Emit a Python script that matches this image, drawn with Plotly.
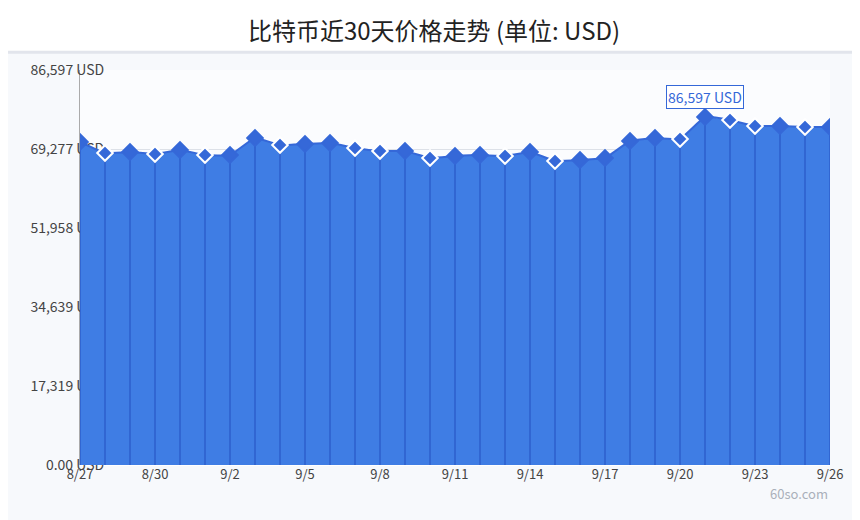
import plotly.graph_objects as go
import pandas as pd

dates = pd.date_range("2024-08-27", "2024-09-26").strftime("%Y-%m-%d").tolist()
prices = [70812, 68400, 68620, 68180, 69060, 67960, 67960, 71690, 70150, 70370,
          70590, 69500, 68840, 68840, 67300, 67740, 67960, 67740, 68620, 66650,
          66870, 67300, 71030, 71690, 71470, 76290, 75630, 74320, 74320, 74100, 74100]
dates = dates[:len(prices)]
tick_vals = [0, 17319, 34639, 51958, 69277, 86597]
tick_text = ["0.00 USD", "17,319 USD", "34,639 USD", "51,958 USD", "69,277 USD", "86,597 USD"]
x_ticks = dates[::3]
x_text = ["8/27", "8/30", "9/2", "9/5", "9/8", "9/11", "9/14", "9/17", "9/20", "9/23", "9/26"]

# white-outlined markers where the price fell
outline = ["#3568d8" if i == 0 or prices[i] >= prices[i - 1] else "white" for i in range(len(prices))]

# vertical separators between the day columns
sep_x, sep_y = [], []
for d, p in zip(dates, prices):
    sep_x += [d, d, None]
    sep_y += [0, p, None]

fig = go.Figure()
fig.add_trace(go.Scatter(
    x=dates, y=prices, mode="lines", line=dict(color="#3568d8", width=2, shape="spline", smoothing=0.3),
    fill="tozeroy", fillcolor="#3f7de4", hoverinfo="skip"))
fig.add_trace(go.Scatter(x=sep_x, y=sep_y, mode="lines", line=dict(color="#3166d2", width=2),
                         hoverinfo="skip"))
fig.add_trace(go.Scatter(
    x=dates, y=prices, mode="markers",
    marker=dict(symbol="diamond", size=12, color="#3568d8", line=dict(color=outline, width=2))))

fig.add_annotation(x=dates[25], y=prices[25], yshift=20, text="86,597 USD", showarrow=False,
                   bordercolor="#3568d8", borderwidth=1, bgcolor="white", borderpad=1,
                   font=dict(color="#3568d8", size=14))
fig.add_annotation(x=1, y=-0.1, xref="paper", yref="paper", xanchor="right", text="60so.com",
                   showarrow=False, font=dict(color="#aab0ba", size=13))
fig.add_shape(type="rect", xref="paper", yref="paper", x0=-0.2, x1=1.2, y0=1.045, y1=1.3,
              fillcolor="#ffffff", line=dict(color="#e2e5ec", width=3), layer="below")

fig.update_layout(
    width=852, height=512, margin=dict(l=72, r=30, t=62, b=55, autoexpand=False),
    title=dict(text="比特币近30天价格走势 (单位: USD)", x=0.5, y=0.97, font=dict(size=24, color="#222")),
    paper_bgcolor="#f7f9fc", plot_bgcolor="#fbfcfe", showlegend=False,
    font=dict(family="Noto Sans CJK SC", color="#444"),
    xaxis=dict(tickvals=x_ticks, ticktext=x_text, range=[dates[0], dates[-1]], showgrid=False,
               tickfont=dict(size=13), automargin=False),
    yaxis=dict(range=[0, 86597], tickvals=tick_vals, ticktext=tick_text, gridcolor="#dde1e8",
               showline=True, linecolor="#aaa", ticklabelstandoff=-28, layer="below traces",
               tickfont=dict(size=14), automargin=False),
)
fig.write_html("out.html")
